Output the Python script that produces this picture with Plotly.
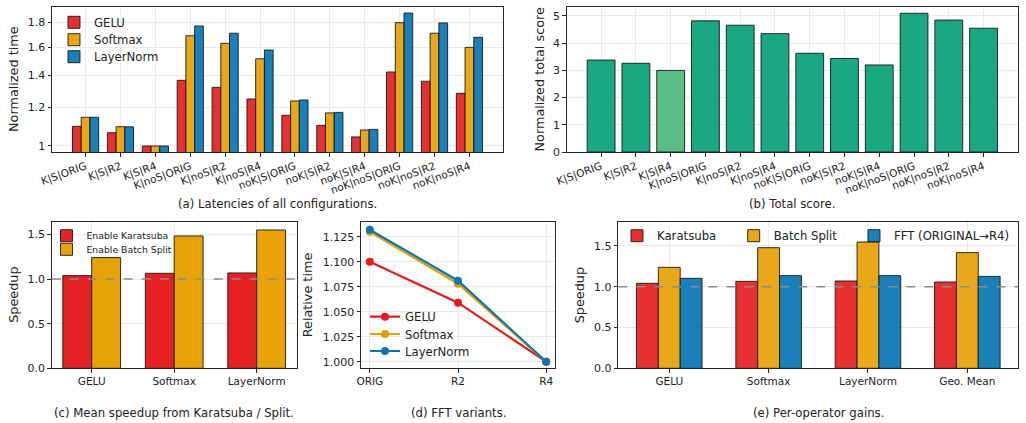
import plotly.graph_objects as go

W, H = 1026, 423
FONT = "DejaVu Sans"

# ---------------- data ----------------
configs = ["K|S|ORIG", "K|S|R2", "K|S|R4", "K|noS|ORIG", "K|noS|R2", "K|noS|R4",
           "noK|S|ORIG", "noK|S|R2", "noK|S|R4", "noK|noS|ORIG", "noK|noS|R2", "noK|noS|R4"]
lat_gelu = [1.098, 1.065, 1.000, 1.366, 1.321, 1.250, 1.157, 1.103, 1.044, 1.421, 1.360, 1.284]
lat_softmax = [1.146, 1.096, 1.000, 1.688, 1.628, 1.513, 1.238, 1.170, 1.079, 1.796, 1.708, 1.597]
lat_layernorm = [1.146, 1.095, 1.000, 1.768, 1.708, 1.577, 1.244, 1.173, 1.082, 1.880, 1.794, 1.675]
lat_ticks = [1, 1.2, 1.4, 1.6, 1.8]
lat_ticktext = ["1", "1.2", "1.4", "1.6", "1.8"]

score = [3.38, 3.26, 3.00, 4.82, 4.66, 4.35, 3.63, 3.44, 3.20, 5.10, 4.85, 4.55]

operators = ["GELU", "Softmax", "LayerNorm"]
karatsuba_speedup = [1.038, 1.064, 1.068]
split_speedup = [1.240, 1.482, 1.549]

fft_variants = ["ORIG", "R2", "R4"]
fft_gelu = [1.100, 1.059, 1.000]
fft_softmax = [1.130, 1.078, 1.000]
fft_layernorm = [1.132, 1.081, 1.000]

gain_groups = ["GELU", "Softmax", "LayerNorm", "Geo. Mean"]
gain_karatsuba = [1.042, 1.066, 1.070, 1.058]
gain_split = [1.238, 1.479, 1.548, 1.418]
gain_fft = [1.103, 1.136, 1.136, 1.127]

# ---------------- styles ----------------
RED = "rgba(228,26,28,0.9)"
ORANGE = "rgba(230,159,0,0.9)"
BLUE = "rgba(0,114,178,0.9)"
RED_C = "rgba(228,26,28,0.97)"
ORANGE_C = "rgba(230,159,0,0.97)"
GREEN = "rgba(0,158,115,0.9)"
GREEN_HI = "#5bbd86"
EDGE = dict(color="rgba(25,25,25,0.9)", width=1)
GRID = "#e9e9e9"
AX = "#262626"
TXT = "#222"
NOBG = "rgba(255,255,255,0)"
YTICK = 11
XTICK = 10.5
YTITLE = 12.8
LEG = 11.7
CAP = 11.7


def px_x(p):
    return p / W


def px_y(p):
    return 1 - p / H


fig = go.Figure()
legend_boxes = {}  # legend id -> (left px, row centre px, font size)

# (a) latencies
for (name, vals, col, k), lg, row in zip(
        [("GELU", lat_gelu, RED, -1), ("Softmax", lat_softmax, ORANGE, 0),
         ("LayerNorm", lat_layernorm, BLUE, 1)],
        ["legend", "legend2", "legend3"], [22.3, 39.7, 56.7]):
    fig.add_trace(go.Bar(x=configs, y=vals, name=name, marker=dict(color=col, line=EDGE),
                         width=0.25, offset=-0.125 + 0.25 * k, xaxis="x", yaxis="y", legend=lg))
    legend_boxes[lg] = (54, row, LEG)

# (b) total score
lowest = min(score)
fig.add_trace(go.Bar(x=configs, y=score, showlegend=False,
                     marker=dict(color=[GREEN_HI if v == lowest else GREEN for v in score], line=EDGE),
                     width=0.8, xaxis="x2", yaxis="y2"))

# (c) mean speedup
for (name, vals, col, k), lg, row in zip(
        [("Enable Karatsuba", karatsuba_speedup, RED_C, 0),
         ("Enable Batch Split", split_speedup, ORANGE_C, 1)],
        ["legend4", "legend5"], [235.7, 249.3]):
    fig.add_trace(go.Bar(x=operators, y=vals, name=name, marker=dict(color=col, line=EDGE),
                         width=0.35, offset=-0.35 + 0.35 * k, xaxis="x3", yaxis="y3", legend=lg))
    legend_boxes[lg] = (46.5, row, 9.3)

# (d) FFT variants
for (name, vals, col), lg, row in zip(
        [("GELU", fft_gelu, "#e41a1c"), ("Softmax", fft_softmax, "#e69f00"),
         ("LayerNorm", fft_layernorm, "#0f75b0")],
        ["legend6", "legend7", "legend8"], [316.7, 334, 351]):
    fig.add_trace(go.Scatter(x=fft_variants, y=vals, name=name, mode="lines+markers",
                             line=dict(color=col, width=2.2), marker=dict(color=col, size=8),
                             xaxis="x4", yaxis="y4", legend=lg))
    legend_boxes[lg] = (365, row, LEG)

# (e) per-operator gains
for (name, vals, col, k), lg, left in zip(
        [("Karatsuba", gain_karatsuba, RED, -1), ("Batch Split", gain_split, ORANGE, 0),
         ("FFT (ORIGINAL→R4)", gain_fft, BLUE, 1)],
        ["legend9", "legend10", "legend11"], [617, 733.7, 854]):
    fig.add_trace(go.Bar(x=gain_groups, y=vals, name=name, marker=dict(color=col, line=EDGE),
                         width=0.22, offset=-0.11 + 0.22 * k, xaxis="x5", yaxis="y5", legend=lg))
    legend_boxes[lg] = (left, 235.7, LEG)


def axis_common(**kw):
    d = dict(showline=True, mirror=True, linecolor=AX, linewidth=1, ticks="outside", ticklen=3.5,
             tickcolor=AX, showgrid=True, gridcolor=GRID, gridwidth=1, zeroline=False,
             automargin=False, tickfont=dict(family=FONT, size=YTICK, color=TXT))
    d.update(kw)
    return d


xt = dict(family=FONT, size=XTICK, color=TXT)
top_a = [px_y(152), px_y(7)]
bot = [px_y(368.3), px_y(222.3)]

fig.update_layout(
    width=W, height=H, margin=dict(l=0, r=0, t=0, b=0, autoexpand=False),
    paper_bgcolor="white", plot_bgcolor="white",
    font=dict(family=FONT, color=TXT),
    barmode="overlay",
    xaxis=axis_common(domain=[px_x(52), px_x(503)], anchor="y", type="category",
                      range=[-0.9625, 11.9625], tickangle=-20, tickfont=xt),
    yaxis=axis_common(domain=top_a, anchor="x", type="log", range=[-0.0124, 0.2866],
                      tickvals=lat_ticks, ticktext=lat_ticktext),
    xaxis2=axis_common(domain=[px_x(566.7), px_x(1018)], anchor="y2", type="category",
                       range=[-0.99, 11.99], tickangle=-20, tickfont=xt),
    yaxis2=axis_common(domain=top_a, anchor="x2", range=[0, 5.33], dtick=1),
    xaxis3=axis_common(domain=[px_x(51.7), px_x(296.7)], anchor="y3", type="category",
                       range=[-0.485, 2.485], tickfont=xt),
    yaxis3=axis_common(domain=bot, anchor="x3", range=[0, 1.635], dtick=0.5, tickformat=".1f"),
    xaxis4=axis_common(domain=[px_x(361), px_x(555)], anchor="y4", type="category",
                       range=[-0.1, 2.1], tickfont=xt),
    yaxis4=axis_common(domain=bot, anchor="x4", range=[0.9934, 1.1394], dtick=0.025, tickformat=".3f"),
    xaxis5=axis_common(domain=[px_x(618.3), px_x(1018.3)], anchor="y5", type="category",
                       range=[-0.513, 3.513], tickfont=xt),
    yaxis5=axis_common(domain=bot, anchor="x5", range=[0, 1.79], dtick=0.5, tickformat=".1f"),
)

for lg, (left, row, size) in legend_boxes.items():
    fig.update_layout({lg: dict(x=px_x(left), y=px_y(row), xanchor="left", yanchor="middle",
                                bgcolor=NOBG, font=dict(family=FONT, size=size, color=TXT),
                                itemwidth=30)})

shape_line = dict(color="#8c8c8c", width=1.3, dash="dash")
fig.add_shape(type="line", xref="x3 domain", yref="y3", x0=0, x1=1, y0=1, y1=1, line=shape_line, layer="above")
fig.add_shape(type="line", xref="x5 domain", yref="y5", x0=0, x1=1, y0=1, y1=1, line=shape_line, layer="above")

# y-axis titles
ytitles = [("Normalized time", 13.5, 79.5), ("Normalized total score", 539, 79.5),
           ("Speedup", 13.5, 295.3), ("Relative time", 307, 295.3), ("Speedup", 579, 295.3)]
for text, cx, cy in ytitles:
    fig.add_annotation(text=text, x=px_x(cx), y=px_y(cy), xref="paper", yref="paper",
                       showarrow=False, xanchor="center", yanchor="middle", textangle=-90,
                       font=dict(family=FONT, size=YTITLE, color=TXT))

captions = [("(a) Latencies of all configurations.", 277.5, 204),
            ("(b) Total score.", 792, 204),
            ("(c) Mean speedup from Karatsuba / Split.", 174, 413),
            ("(d) FFT variants.", 458, 413),
            ("(e) Per-operator gains.", 818, 413)]
for text, cx, cy in captions:
    fig.add_annotation(text=text, x=px_x(cx), y=px_y(cy), xref="paper", yref="paper",
                       showarrow=False, xanchor="center", yanchor="middle",
                       font=dict(family=FONT, size=CAP, color=TXT))

fig.write_html("out.html")
